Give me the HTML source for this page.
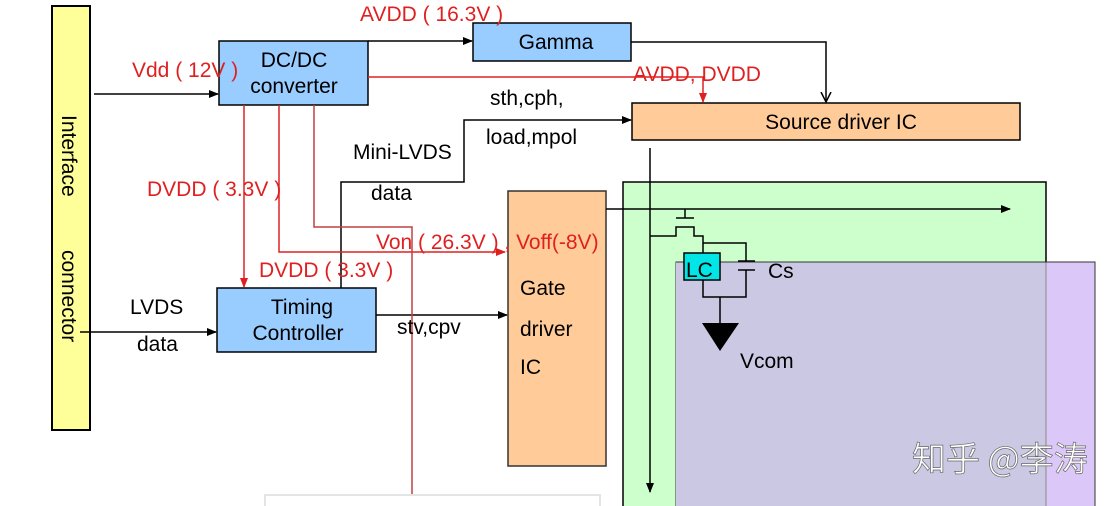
<!DOCTYPE html>
<html><head><meta charset="utf-8"><style>
html,body{margin:0;padding:0;background:#fff;}
svg{display:block;}
text{font-family:"Liberation Sans","DejaVu Sans","Noto Sans CJK SC",sans-serif;font-size:21px;}
.r{fill:#e02020;}
</style></head><body>
<svg width="1116" height="506" viewBox="0 0 1116 506" xmlns="http://www.w3.org/2000/svg">
<defs>
<marker id="a" markerWidth="10" markerHeight="10" refX="9" refY="5" orient="auto" markerUnits="userSpaceOnUse"><path d="M0,1 L10,5 L0,9 z" fill="#000"/></marker>
<marker id="ar" markerWidth="10" markerHeight="10" refX="9" refY="5" orient="auto" markerUnits="userSpaceOnUse"><path d="M0,1 L10,5 L0,9 z" fill="#e02020"/></marker>
<marker id="o" markerWidth="12" markerHeight="12" refX="10" refY="6" orient="auto" markerUnits="userSpaceOnUse"><path d="M0,1 L10,6 L0,11" fill="none" stroke="#000" stroke-width="1.5"/></marker>
</defs>
<rect x="623" y="182" width="423" height="330" fill="#ccffcc" stroke="#000" stroke-width="1.5"/>
<rect x="676" y="262" width="419" height="250" fill="#dcc8f8" stroke="#333" stroke-width="1"/>
<rect x="676" y="262" width="370" height="250" fill="#cbc8e4"/>
<line x1="1046" y1="262" x2="1046" y2="506" stroke="#888" stroke-width="1"/>
<line x1="676" y1="262" x2="1095" y2="262" stroke="#333" stroke-width="1"/>
<rect x="265" y="495" width="335" height="20" fill="#fff" stroke="#e4e4e4" stroke-width="2"/>
<rect x="52" y="6" width="38" height="424" fill="#ffff99" stroke="#000" stroke-width="2"/>
<text transform="translate(62,115) rotate(90)" style="font-size:21px">Interface</text>
<text transform="translate(62,250) rotate(90)" style="font-size:21px">connector</text>
<rect x="219" y="41" width="149" height="64" fill="#99ccff" stroke="#000" stroke-width="1.5"/>
<text x="294" y="67" text-anchor="middle">DC/DC</text>
<text x="294" y="93" text-anchor="middle">converter</text>
<rect x="473" y="23" width="158" height="38" fill="#99ccff" stroke="#000" stroke-width="1.5"/>
<text x="556" y="49" text-anchor="middle">Gamma</text>
<rect x="632" y="103" width="388" height="37" fill="#ffcc99" stroke="#000" stroke-width="1.5"/>
<text x="841" y="129" text-anchor="middle">Source driver IC</text>
<rect x="217" y="288" width="159" height="64" fill="#99ccff" stroke="#000" stroke-width="1.5"/>
<text x="302" y="314" text-anchor="middle">Timing</text>
<text x="298" y="340" text-anchor="middle">Controller</text>
<rect x="508" y="191" width="98" height="275" fill="#ffcc99" stroke="#333" stroke-width="1.5"/>
<text x="520" y="295">Gate</text>
<text x="520" y="336">driver</text>
<text x="520" y="374">IC</text>
<line x1="94" y1="94" x2="218" y2="94" stroke="#000" stroke-width="1.5" marker-end="url(#a)"/>
<line x1="368" y1="41" x2="472" y2="41" stroke="#000" stroke-width="1.5" marker-end="url(#a)"/>
<polyline points="631,42 826,42 826,102" fill="none" stroke="#000" stroke-width="1.5" marker-end="url(#o)"/>
<polyline points="341,288 341,182 464,182 464,120 631,120" fill="none" stroke="#000" stroke-width="1.5" marker-end="url(#a)"/>
<line x1="376" y1="315" x2="507" y2="315" stroke="#000" stroke-width="1.5" marker-end="url(#a)"/>
<line x1="80" y1="332" x2="216" y2="332" stroke="#000" stroke-width="1.5" marker-end="url(#a)"/>
<line x1="650" y1="148" x2="650" y2="492" stroke="#000" stroke-width="1.5" marker-end="url(#a)"/>
<line x1="606" y1="209" x2="1010" y2="209" stroke="#000" stroke-width="1.5" marker-end="url(#a)"/>
<polyline points="368,77 703,77 703,102" fill="none" stroke="#e02020" stroke-width="1.5" marker-end="url(#ar)"/>
<line x1="244" y1="105" x2="244" y2="287" stroke="#e02020" stroke-width="1.5" marker-end="url(#ar)"/>
<polyline points="279,105 279,252 505,252" fill="none" stroke="#e02020" stroke-width="1.5" marker-end="url(#ar)"/>
<polyline points="314,105 314,227 412,227 412,494" fill="none" stroke="#c04040" stroke-width="1.5"/>
<g stroke="#000" stroke-width="1.5" fill="none">
<line x1="685" y1="209" x2="685" y2="218"/>
<line x1="676" y1="218" x2="694" y2="218"/>
<polyline points="650,236 676,236 676,227 694,227 694,236 703,236 703,254"/>
<polyline points="703,243 746,243 746,261"/>
<line x1="738" y1="261" x2="755" y2="261"/>
<line x1="738" y1="270" x2="755" y2="270"/>
<polyline points="746,270 746,297 703,297 703,280"/>
<line x1="720" y1="297" x2="720" y2="323"/>
</g>
<rect x="684" y="253" width="36" height="27" fill="#00e5e5" stroke="#000" stroke-width="1.5"/>
<text x="686" y="277">LC</text>
<polygon points="702,323 739,323 720,351" fill="#000"/>
<text x="768" y="278">Cs</text>
<text x="740" y="368">Vcom</text>
<text x="360" y="21" class="r">AVDD ( 16.3V )</text>
<text x="132" y="77" class="r">Vdd ( 12V )</text>
<text x="633" y="81" class="r">AVDD, DVDD</text>
<text x="147" y="196" class="r">DVDD  ( 3.3V )</text>
<text x="259" y="277" class="r">DVDD  ( 3.3V )</text>
<text x="376" y="249" class="r">Von ( 26.3V ) , Voff(-8V)</text>
<text x="490" y="105">sth,cph,</text>
<text x="486" y="144">load,mpol</text>
<text x="353" y="159">Mini-LVDS</text>
<text x="371" y="200">data</text>
<text x="130" y="314">LVDS</text>
<text x="137" y="351">data</text>
<text x="397" y="334">stv,cpv</text>
<text x="912" y="471" fill="#fff" stroke="#666" stroke-width="0.7" style="font-size:34px;font-family:'Noto Sans CJK SC',sans-serif">知乎 @李涛</text>
</svg>
</body></html>
